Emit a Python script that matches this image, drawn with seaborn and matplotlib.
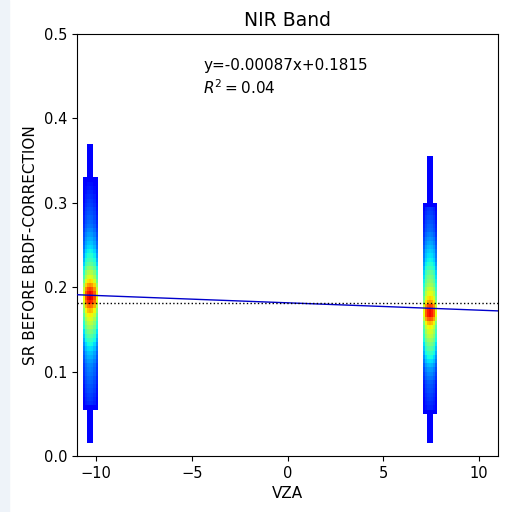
import numpy as np
import pandas as pd
import matplotlib
matplotlib.use("Agg")
import matplotlib.pyplot as plt
import seaborn as sns
from matplotlib.patches import Rectangle
from matplotlib.colors import ListedColormap

# ---- data ----
title = "NIR Band"
x_label = "VZA"
y_label = "SR BEFORE BRDF-CORRECTION"
slope = -0.00087
intercept = 0.1815
r2 = 0.04
mean_sr = 0.181

# two view-zenith-angle clusters (centre and width, degrees)
cluster_centers = [-10.3, 7.46]
cluster_width = 0.75
# relative density across a cluster (7 columns)
x_profile = [0.7, 0.9, 0.98, 1.0, 0.98, 0.9, 0.7]
# y bins (SR), step 0.005 from 0 to 0.375
y_step = 0.005
# relative density along SR at the centre column (left cluster)
left_profile = [0, 0, 0, 0.065, 0.065, 0.065, 0.065, 0.065, 0.065, 0.065,
                0.065, 0.09, 0.17, 0.18, 0.19, 0.20, 0.21, 0.22, 0.23, 0.24,
                0.25, 0.26, 0.28, 0.30, 0.32, 0.35, 0.38, 0.42, 0.46, 0.50,
                0.54, 0.58, 0.62, 0.66, 0.72, 0.80, 0.88, 0.92, 0.90, 0.84,
                0.76, 0.68, 0.62, 0.57, 0.52, 0.47, 0.43, 0.40, 0.37, 0.34,
                0.32, 0.30, 0.28, 0.26, 0.24, 0.23, 0.22, 0.21, 0.20, 0.19,
                0.18, 0.17, 0.16, 0.15, 0.14, 0.11, 0.065, 0.065, 0.065, 0.065,
                0.065, 0.065, 0.065, 0.065, 0]
# relative density along SR at the centre column (right cluster)
right_profile = [0, 0, 0, 0.065, 0.065, 0.065, 0.065, 0.065, 0.065, 0.065,
                 0.12, 0.16, 0.17, 0.18, 0.19, 0.20, 0.21, 0.22, 0.24, 0.26,
                 0.28, 0.31, 0.35, 0.38, 0.42, 0.46, 0.50, 0.54, 0.58, 0.61,
                 0.65, 0.72, 0.82, 0.90, 0.90, 0.84, 0.74, 0.68, 0.63, 0.59,
                 0.55, 0.52, 0.50, 0.47, 0.43, 0.40, 0.37, 0.35, 0.33, 0.31,
                 0.29, 0.27, 0.25, 0.23, 0.22, 0.21, 0.20, 0.19, 0.18, 0.12,
                 0.065, 0.065, 0.065, 0.065, 0.065, 0.065, 0.065, 0.065, 0.065, 0.065,
                 0.065, 0, 0, 0, 0]
x_ticks = [-10, -5, 0, 5, 10]
y_ticks = [0.0, 0.1, 0.2, 0.3, 0.4, 0.5]

# ---- build table ----
n_y = len(left_profile)
y_edges = np.arange(n_y + 1) * y_step
y_centers = (y_edges[:-1] + y_edges[1:]) / 2
rows = []
for cx, prof in zip(cluster_centers, [left_profile, right_profile]):
    nx = len(x_profile)
    xe = np.linspace(cx - cluster_width / 2, cx + cluster_width / 2, nx + 1)
    xc = (xe[:-1] + xe[1:]) / 2
    for i, xv in enumerate(xc):
        for j, yv in enumerate(y_centers):
            rows.append((xv, yv, x_profile[i] * prof[j], cx))
df = pd.DataFrame(rows, columns=["vza", "sr", "w", "cluster"])

jet = matplotlib.colormaps["jet"]
cmap = ListedColormap(jet(np.maximum(np.linspace(0, 1, 256), 0.11)))

fig = plt.figure(figsize=(5.12, 5.12), dpi=100)
fig.patches.append(Rectangle((0, 0), 9 / 512, 1, transform=fig.transFigure,
                             color="#eef3f9", zorder=-10))
ax = fig.add_axes([77 / 512, 1 - 456 / 512, (498 - 77) / 512, (456 - 34) / 512])

for cx in cluster_centers:
    sub = df[df["cluster"] == cx]
    xe = np.linspace(cx - cluster_width / 2, cx + cluster_width / 2, len(x_profile) + 1)
    sns.histplot(data=sub, x="vza", y="sr", weights="w", bins=[xe, y_edges],
                 cmap=cmap, vmin=0, vmax=1, thresh=0.06, ax=ax, zorder=1)

xl = np.array([-11, 11])
ax.plot(xl, intercept + slope * xl, color="#0000cc", lw=1, zorder=3)
ax.axhline(mean_sr, color="k", ls=":", lw=1, zorder=3)

ax.text(-4.4, 0.463, f"y={slope}x+{intercept}", fontsize=11, va="center", ha="left")
ax.text(-4.4, 0.437, f"$R^2={r2}$", fontsize=11, va="center", ha="left")

ax.set_xlim(-11, 11)
ax.set_ylim(0, 0.5)
ax.set_xticks(x_ticks)
ax.set_yticks(y_ticks)
ax.tick_params(labelsize=10.5)
ax.set_xlabel(x_label, fontsize=11)
ax.set_ylabel(y_label, fontsize=11)
ax.set_title(title, fontsize=13.5)

fig.savefig("out.png", dpi=100)
